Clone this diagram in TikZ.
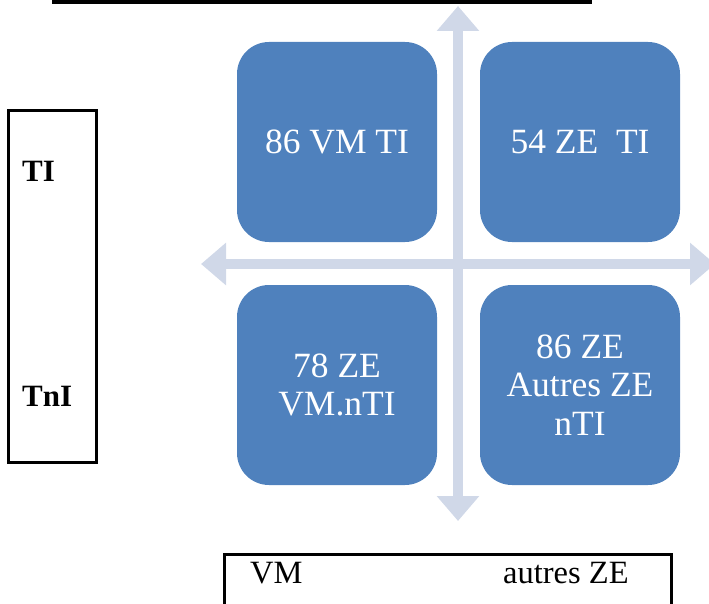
\documentclass[tikz,border=0pt]{standalone}
\usepackage{fontspec}
\setmainfont{Liberation Serif}
\usetikzlibrary{arrows.meta,positioning}
\definecolor{quadblue}{RGB}{79,129,189}
\definecolor{axisgrey}{RGB}{208,216,232}

\begin{document}
\begin{tikzpicture}[x=1pt,y=-1pt,
  quad/.style={fill=quadblue,rounded corners=32pt,minimum width=200pt,minimum height=200pt,
    text=white,align=center,inner sep=0pt,font=\fontsize{35.5}{38.5}\selectfont},
  axis/.style={axisgrey,line width=10pt,{Triangle[length=25pt,width=41pt]}-{Triangle[length=25pt,width=41pt]}},
  lbl/.style={anchor=base west,inner sep=0pt,font=\fontsize{32.5}{36}\selectfont},
  frame/.style={draw,line width=3pt}]
\useasboundingbox (0,0) rectangle (709,604);
\clip (0,0) rectangle (709,604);
% title rule
\draw[line width=4pt] (52,2.5) -- (592,2.5);
% axes
\coordinate (vtop) at (458,6);
\coordinate (vbot) at (458,521);
\coordinate (hleft) at (201,264);
\coordinate (hright) at (715,264);
\draw[axis] (vtop) -- (vbot);
\draw[axis] (hleft) -- (hright);
% quadrants
\node[quad] (tl) at (337,142) {86 VM TI};
\node[quad] (tr) at (580,142) {54 ZE~~TI};
\node[quad] (bl) at (337,385) {78 ZE\\VM.nTI};
\node[quad] (br) at (580,385) {86 ZE\\Autres ZE\\nTI};
% side legend
\draw[frame] (8.5,110.5) rectangle (96,462);
\node[lbl,font=\fontsize{31}{36}\selectfont\bfseries] (ti) at (22,182) {TI};
\node[lbl,font=\fontsize{31}{36}\selectfont\bfseries] (tni) at (22,406) {TnI};
% bottom legend
\draw[frame] (224,554) rectangle (671,612);
\node[lbl] (vm) at (250,583) {VM};
\node[lbl] (ze) at (503,583) {autres ZE};
\end{tikzpicture}
\end{document}
